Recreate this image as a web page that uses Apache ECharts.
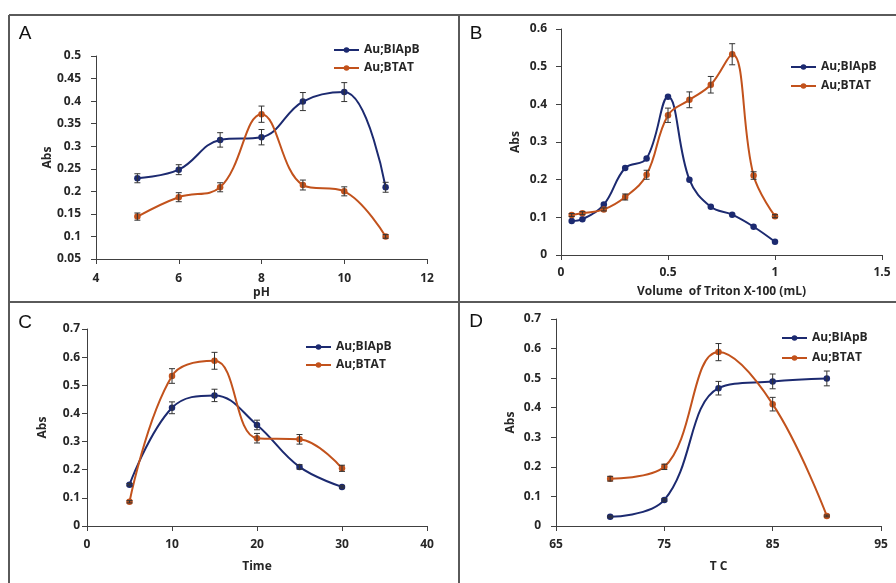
<!DOCTYPE html>
<html>
<head>
<meta charset="utf-8">
<script src="https://cdn.jsdelivr.net/npm/echarts@6/dist/echarts.min.js"></script>
<style>
	html, body { margin: 0; padding: 0; background: #fff; }
	#chart { width: 896px; height: 583px; }
</style>
</head>
<body>
<div id="chart"></div>
<script>
const names = ["Au;BIApB", "Au;BTAT"]

// A: pH
const phX = [5, 6, 7, 8, 9, 10, 11]
const phBIApB = [0.229, 0.248, 0.314, 0.320, 0.399, 0.420, 0.209]
const phBIApBErr = [0.010, 0.011, 0.016, 0.017, 0.020, 0.021, 0.011]
const phBTAT = [0.144, 0.187, 0.209, 0.371, 0.214, 0.200, 0.100]
const phBTATErr = [0.008, 0.010, 0.010, 0.018, 0.011, 0.010, 0.004]

// B: volume of Triton X-100
const volX = [0.05, 0.1, 0.2, 0.3, 0.4, 0.5, 0.6, 0.7, 0.8, 0.9, 1.0]
const volBIApB = [0.090, 0.095, 0.134, 0.231, 0.256, 0.420, 0.200, 0.128, 0.107, 0.075, 0.035]
const volBTAT = [0.106, 0.111, 0.121, 0.154, 0.213, 0.371, 0.412, 0.452, 0.533, 0.211, 0.103]
const volBTATErr = [0.004, 0.004, 0.004, 0.008, 0.012, 0.019, 0.021, 0.022, 0.028, 0.010, 0.004]

// C: time
const timeX = [5, 10, 15, 20, 25, 30]
const timeBIApB = [0.147, 0.420, 0.464, 0.359, 0.210, 0.139]
const timeBIApBErr = [0.004, 0.021, 0.022, 0.017, 0.008, 0.004]
const timeBTAT = [0.086, 0.533, 0.587, 0.312, 0.308, 0.205]
const timeBTATErr = [0.004, 0.026, 0.030, 0.017, 0.017, 0.011]

// D: temperature
const tempX = [70, 75, 80, 85, 90]
const tempBIApB = [0.031, 0.088, 0.466, 0.489, 0.499]
const tempBIApBErr = [0.003, 0.004, 0.023, 0.025, 0.025]
const tempBTAT = [0.160, 0.200, 0.588, 0.412, 0.034]
const tempBTATErr = [0.008, 0.009, 0.029, 0.023, 0.003]

const blue = "#1c2a70"
const orange = "#c2521c"
const axisColor = "#404040"
const textColor = "#262626"
const font = "'Open Sans', 'Liberation Sans', sans-serif"

const grids = [
	{ left: 96, top: 56, width: 331, height: 203 },
	{ left: 561, top: 29, width: 321, height: 226 },
	{ left: 87, top: 329, width: 340, height: 197 },
	{ left: 556, top: 319, width: 325, height: 207 },
]

const makeX = (i, min, max, interval, name, nameGap, margin) => ({
	type: "value", gridIndex: i, min: min, max: max, interval: interval,
	name: name, nameLocation: "middle", nameGap: nameGap,
	nameTextStyle: { color: textColor, fontWeight: "bold", fontSize: 12, fontFamily: font },
	axisLine: { show: true, onZero: false, lineStyle: { color: axisColor, width: 1 } },
	axisTick: { show: true, inside: false, length: 5, lineStyle: { color: axisColor } },
	axisLabel: { color: textColor, fontWeight: "bold", fontSize: 12, fontFamily: font, margin: margin },
	splitLine: { show: false },
})
const makeY = (i, min, max, interval, nameGap, margin) => ({
	type: "value", gridIndex: i, min: min, max: max, interval: interval,
	name: "Abs", nameLocation: "middle", nameGap: nameGap,
	nameTextStyle: { color: textColor, fontWeight: "bold", fontSize: 12, fontFamily: font },
	axisLine: { show: true, onZero: false, lineStyle: { color: axisColor, width: 1 } },
	axisTick: { show: true, inside: false, length: 5, lineStyle: { color: axisColor } },
	axisLabel: { color: textColor, fontWeight: "bold", fontSize: 12, fontFamily: font, margin: margin },
	splitLine: { show: false },
})

const zip = (xs, ys) => xs.map((x, k) => [x, ys[k]])

const lineSeries = (i, name, color, xs, ys) => ({
	type: "line", name: name, xAxisIndex: i, yAxisIndex: i,
	data: zip(xs, ys), smooth: 0.4,
	symbol: "circle", symbolSize: 6.5,
	lineStyle: { color: color, width: 2 },
	itemStyle: { color: color },
	z: 3,
})

const errorSeries = (i, xs, ys, errs) => ({
	type: "custom", xAxisIndex: i, yAxisIndex: i,
	data: xs.map((x, k) => [x, ys[k] - errs[k], ys[k] + errs[k]]),
	renderItem: function(params, api) {
		let x = api.value(0)
		let top = api.coord([x, api.value(2)])
		let bot = api.coord([x, api.value(1)])
		let st = { stroke: "#333", lineWidth: 1 }
		return {
			type: "group",
			children: [
				{ type: "line", shape: { x1: top[0], y1: top[1], x2: bot[0], y2: bot[1] }, style: st },
				{ type: "line", shape: { x1: top[0] - 3, y1: top[1], x2: top[0] + 3, y2: top[1] }, style: st },
				{ type: "line", shape: { x1: bot[0] - 3, y1: bot[1], x2: bot[0] + 3, y2: bot[1] }, style: st },
			],
		}
	},
	z: 4,
	silent: true,
})

const makeLegend = (left, top, gap) => ({
	data: names,
	left: left, top: top, orient: "vertical",
	itemWidth: 25, itemHeight: 7, itemGap: gap,
	textStyle: { color: textColor, fontWeight: "bold", fontSize: 12, fontFamily: font },
})

const panelLetter = (text, x, y) => ({
	type: "text", x: x, y: y,
	style: { text: text, fontSize: 19, fontFamily: "'Liberation Sans', sans-serif", fill: "#111", align: "center", verticalAlign: "middle" },
})
const border = (x1, y1, x2, y2) => ({
	type: "line", shape: { x1: x1, y1: y1, x2: x2, y2: y2 },
	style: { stroke: "#5a5a5a", lineWidth: 2 },
})

let chart = echarts.init(document.getElementById("chart"))
let option = {
	animation: false,
	grid: grids,
	xAxis: [
		makeX(0, 4, 12, 2, "pH", 28, 14),
		makeX(1, 0, 1.5, 0.5, "Volume  of Triton X-100 (mL)", 31, 12),
		makeX(2, 0, 40, 10, "Time", 35, 13),
		makeX(3, 65, 95, 10, "T C", 35, 13),
	],
	yAxis: [
		makeY(0, 0.05, 0.5, 0.05, 40, 15),
		makeY(1, 0, 0.6, 0.1, 39, 14),
		makeY(2, 0, 0.7, 0.1, 38, 7),
		makeY(3, 0, 0.7, 0.1, 39, 15),
	],
	legend: [
		makeLegend(328, 39, 6),
		makeLegend(785, 56, 7),
		makeLegend(300, 336, 6),
		makeLegend(776, 327, 8),
	],
	series: [
		lineSeries(0, names[0], blue, phX, phBIApB),
		lineSeries(0, names[1], orange, phX, phBTAT),
		errorSeries(0, phX, phBIApB, phBIApBErr),
		errorSeries(0, phX, phBTAT, phBTATErr),

		lineSeries(1, names[0], blue, volX, volBIApB),
		lineSeries(1, names[1], orange, volX, volBTAT),
		errorSeries(1, volX, volBTAT, volBTATErr),

		lineSeries(2, names[0], blue, timeX, timeBIApB),
		lineSeries(2, names[1], orange, timeX, timeBTAT),
		errorSeries(2, timeX, timeBIApB, timeBIApBErr),
		errorSeries(2, timeX, timeBTAT, timeBTATErr),

		lineSeries(3, names[0], blue, tempX, tempBIApB),
		lineSeries(3, names[1], orange, tempX, tempBTAT),
		errorSeries(3, tempX, tempBIApB, tempBIApBErr),
		errorSeries(3, tempX, tempBTAT, tempBTATErr),
	],
	graphic: [
		border(9, 15, 896, 15),
		border(9, 15, 9, 583),
		border(459, 15, 459, 583),
		border(9, 302, 896, 302),
		panelLetter("A", 25, 34),
		panelLetter("B", 476, 34),
		panelLetter("C", 25, 323),
		panelLetter("D", 476, 322),
	],
}
chart.setOption(option)
</script>
</body>
</html>
